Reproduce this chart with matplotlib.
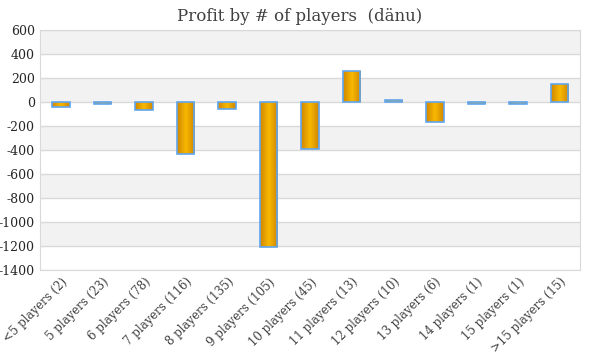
import numpy as np
import matplotlib.pyplot as plt
from matplotlib.colors import LinearSegmentedColormap

categories = ['<5 players (2)', '5 players (23)', '6 players (78)', '7 players (116)',
              '8 players (135)', '9 players (105)', '10 players (45)', '11 players (13)',
              '12 players (10)', '13 players (6)', '14 players (1)', '15 players (1)',
              '>15 players (15)']
profit = [-40, -15, -65, -430, -60, -1205, -395, 260, 15, -170, -20, -20, 150]
yticks = list(range(-1400, 601, 200))

plt.rcParams['font.family'] = ['DejaVu Serif']

fig = plt.figure(figsize=(6, 3.6), dpi=100)
ax = fig.add_axes([0.067, 0.25, 0.9, 0.667])

# alternating bands like the spreadsheet chart
for i, lo in enumerate(range(-1400, 600, 200)):
    if i % 2 == 1:
        ax.axhspan(lo, lo + 200, color='#f2f2f2', zorder=0, lw=0)
for t in yticks:
    ax.axhline(t, color='#d9d9d9', lw=1, zorder=1)

x = np.arange(len(categories))
width = 0.42
bars = ax.bar(x, profit, width, facecolor='none', edgecolor='#5fa6ef', lw=1.2, zorder=3)

# orange gradient inside each bar
cmap = LinearSegmentedColormap.from_list('og', ['#d08600', '#f8b800', '#d08600'])
grad = np.linspace(0, 1, 64).reshape(1, -1)
for b in bars:
    x0, y0 = b.get_x(), b.get_y()
    im = ax.imshow(grad, extent=[x0, x0 + b.get_width(), y0, y0 + b.get_height()],
                   aspect='auto', cmap=cmap, zorder=2, interpolation='bilinear')
    im.set_clip_path(b)

ax.set_xlim(-0.5, len(categories) - 0.5)
ax.set_ylim(-1400, 600)
ax.set_aspect('auto')
ax.set_yticks(yticks)
ax.set_yticklabels([str(t) for t in yticks], fontsize=9, color='#262626')
ax.set_xticks(x)
ax.set_xticklabels(categories, rotation=45, ha='right', rotation_mode='anchor',
                   fontsize=8.5, color='#404040')
ax.tick_params(length=0, pad=4)
for s in ax.spines.values():
    s.set_color('#d9d9d9')

fig.text(0.5, 0.955, 'Profit by # of players  (dänu)', ha='center', va='center',
         fontsize=12, color='#404040')

fig.savefig('out.png', dpi=100)
